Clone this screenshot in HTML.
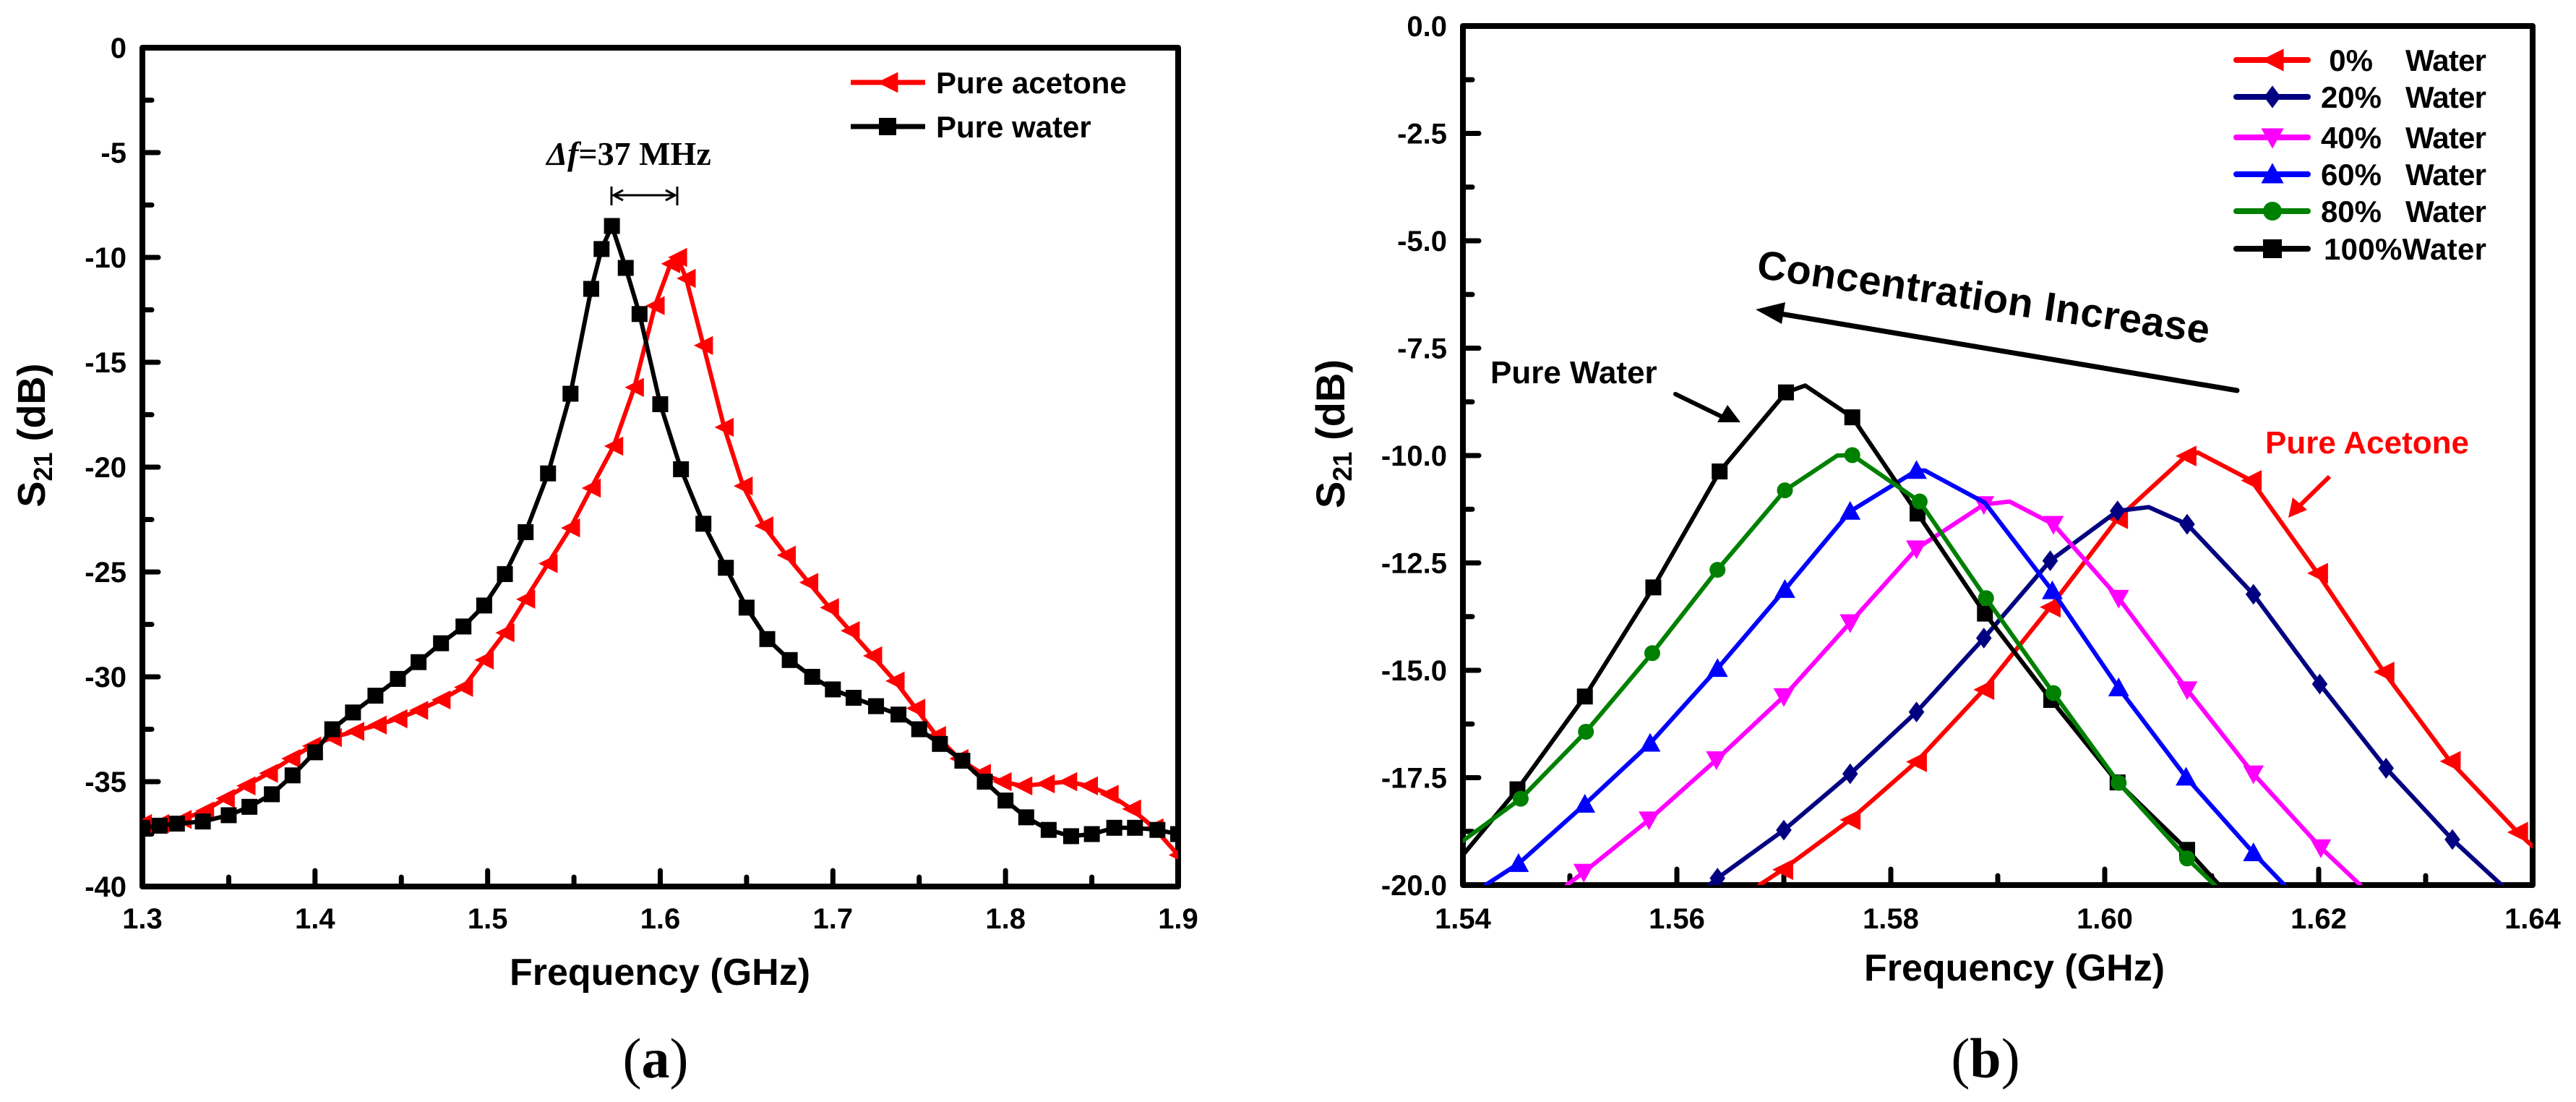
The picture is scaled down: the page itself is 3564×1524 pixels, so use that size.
<!DOCTYPE html>
<html><head><meta charset="utf-8"><style>
html,body{margin:0;padding:0;background:#fff;}
svg{display:block;font-family:"Liberation Sans",Arial,sans-serif;}
</style></head><body>
<svg id="fig" width="3564" height="1524" viewBox="0 0 3564 1524" xmlns="http://www.w3.org/2000/svg">
<defs>
<clipPath id="clipA"><rect x="197" y="66" width="1433" height="1160"/></clipPath>
<clipPath id="clipB"><rect x="2024" y="36" width="1480" height="1188"/></clipPath>
</defs>
<g id="chartA"></g>
<g id="chartB"></g>
</svg>
<script>
// ---------- Chart (a) data ----------
const aWaterF = [1.30,1.31,1.32,1.335,1.35,1.362,1.375,1.387,1.40,1.41,1.422,1.435,1.448,1.46,1.473,1.486,1.498,1.51,1.522,1.535,1.548,1.56,1.566,1.572,1.58,1.588,1.60,1.612,1.625,1.638,1.65,1.662,1.675,1.688,1.70,1.712,1.725,1.738,1.75,1.762,1.775,1.788,1.80,1.812,1.825,1.838,1.85,1.863,1.875,1.888,1.90];
const aWaterDB = [-37.2,-37.1,-37.0,-36.9,-36.6,-36.2,-35.6,-34.7,-33.6,-32.5,-31.7,-30.9,-30.1,-29.3,-28.4,-27.6,-26.6,-25.1,-23.1,-20.3,-16.5,-11.5,-9.6,-8.5,-10.5,-12.7,-17.0,-20.1,-22.7,-24.8,-26.7,-28.2,-29.2,-30.0,-30.6,-31.0,-31.4,-31.8,-32.5,-33.2,-34.0,-35.0,-35.9,-36.7,-37.3,-37.6,-37.5,-37.2,-37.2,-37.3,-37.5];
const aAcetoneF = [1.30,1.31,1.323,1.336,1.348,1.36,1.373,1.386,1.398,1.41,1.423,1.436,1.448,1.46,1.473,1.486,1.498,1.51,1.522,1.535,1.548,1.56,1.573,1.585,1.597,1.606,1.61,1.615,1.625,1.637,1.648,1.66,1.673,1.686,1.698,1.71,1.723,1.736,1.748,1.76,1.773,1.786,1.798,1.81,1.823,1.836,1.848,1.86,1.873,1.886,1.90];
const aAcetoneDB = [-37.0,-37.0,-36.8,-36.4,-35.8,-35.2,-34.6,-33.9,-33.3,-32.9,-32.6,-32.3,-32.0,-31.6,-31.1,-30.5,-29.2,-27.9,-26.3,-24.6,-22.9,-21.0,-19.0,-16.2,-12.3,-10.3,-10.0,-11.0,-14.2,-18.1,-20.9,-22.8,-24.2,-25.5,-26.7,-27.8,-29.0,-30.2,-31.5,-32.8,-33.9,-34.6,-35.0,-35.2,-35.1,-35.0,-35.2,-35.6,-36.3,-37.2,-38.5];
const aXTicks = [1.3,1.4,1.5,1.6,1.7,1.8,1.9];
const aXTickLabels = ["1.3","1.4","1.5","1.6","1.7","1.8","1.9"];
const aYTicks = [0,-5,-10,-15,-20,-25,-30,-35,-40];
const aYTickLabels = ["0","-5","-10","-15","-20","-25","-30","-35","-40"];

// ---------- Chart (b) data ----------
const bCategories = ["0%","20%","40%","60%","80%","100%"];
const b0F  = [1.5677,1.5699,1.5762,1.5824,1.5887,1.5949,1.6012,1.6076,1.6087,1.6137,1.6199,1.6261,1.6323,1.6386,1.6400];
const b0DB = [-20,-19.64,-18.48,-17.13,-15.45,-13.53,-11.47,-10.01,-9.93,-10.58,-12.74,-15.04,-17.12,-18.77,-19.1];
const b0M  = [0,1,1,1,1,1,1,1,0,1,1,1,1,1,0];
const b20F  = [1.5630,1.5638,1.5700,1.5762,1.5824,1.5887,1.5949,1.6012,1.6041,1.6077,1.6139,1.6201,1.6263,1.6325,1.6371];
const b20DB = [-20,-19.84,-18.72,-17.41,-15.97,-14.25,-12.45,-11.29,-11.2,-11.6,-13.23,-15.32,-17.28,-18.94,-20];
const b20M  = [0,1,1,1,1,1,1,1,0,1,1,1,1,1,0];
const b40F  = [1.5497,1.5513,1.5574,1.5637,1.5700,1.5762,1.5824,1.5887,1.5911,1.5952,1.6013,1.6077,1.6139,1.6202,1.6239];
const b40DB = [-20,-19.7,-18.48,-17.08,-15.61,-13.89,-12.17,-11.14,-11.07,-11.6,-13.32,-15.45,-17.41,-19.13,-20];
const b40M  = [0,1,1,1,1,1,1,1,0,1,1,1,1,1,0];
const b60F  = [1.5421,1.5452,1.5514,1.5575,1.5638,1.5701,1.5762,1.5824,1.5832,1.5888,1.5951,1.6013,1.6076,1.6139,1.6168];
const b60DB = [-20,-19.5,-18.12,-16.7,-14.96,-13.12,-11.3,-10.35,-10.35,-11.1,-13.15,-15.41,-17.49,-19.25,-20];
const b60M  = [0,1,1,1,1,1,1,1,0,0,1,1,1,1,0];
const b80F  = [1.5400,1.5454,1.5515,1.5577,1.5638,1.5701,1.5750,1.5764,1.5827,1.5889,1.5952,1.6013,1.6077,1.6103];
const b80DB = [-18.97,-17.99,-16.43,-14.6,-12.66,-10.81,-10.0,-9.99,-11.07,-13.32,-15.53,-17.62,-19.38,-20];
const b80M  = [0,1,1,1,1,1,0,1,1,1,1,1,1,0];
const b100F  = [1.5400,1.5451,1.5514,1.5578,1.5640,1.5702,1.5720,1.5764,1.5825,1.5888,1.5950,1.6012,1.6077,1.6107];
const b100DB = [-19.3,-17.77,-15.61,-13.07,-10.37,-8.53,-8.37,-9.11,-11.35,-13.68,-15.69,-17.61,-19.18,-20];
const b100M  = [0,1,1,1,1,1,0,1,1,1,1,1,1,0];
const bXTicks = [1.54,1.56,1.58,1.60,1.62,1.64];
const bXTickLabels = ["1.54","1.56","1.58","1.60","1.62","1.64"];
const bYTicks = [0,-2.5,-5,-7.5,-10,-12.5,-15,-17.5,-20];
const bYTickLabels = ["0.0","-2.5","-5.0","-7.5","-10.0","-12.5","-15.0","-17.5","-20.0"];

const NS = "http://www.w3.org/2000/svg";
function mk(parent, tag, attrs, text){
  const e = document.createElementNS(NS, tag);
  for (const k in attrs) e.setAttribute(k, attrs[k]);
  if (text !== undefined) e.textContent = text;
  parent.appendChild(e);
  return e;
}

const A = {x0:197,x1:1630,y0:66,y1:1226,fmin:1.3,fmax:1.9,dmax:0,dmin:-40};
const B = {x0:2024,x1:3504,y0:36,y1:1224,fmin:1.54,fmax:1.64,dmax:0,dmin:-20};
function sx(P,f){return P.x0 + (f-P.fmin)/(P.fmax-P.fmin)*(P.x1-P.x0);}
function sy(P,d){return P.y0 + (P.dmax-d)/(P.dmax-P.dmin)*(P.y1-P.y0);}

function marker(g, type, x, y, color, s){
  let e;
  if (type==="square") e = mk(g,"rect",{x:x-s/2,y:y-s/2,width:s,height:s,fill:color});
  else if (type==="circle") e = mk(g,"circle",{cx:x,cy:y,r:s/2,fill:color});
  else {
    let pts;
    const h=s*0.6;
    if (type==="left") pts=[[x-h,y],[x+h,y-h],[x+h,y+h]];
    else if (type==="up") pts=[[x,y-h],[x-h,y+h*0.8],[x+h,y+h*0.8]];
    else if (type==="down") pts=[[x,y+h],[x-h,y-h*0.8],[x+h,y-h*0.8]];
    else if (type==="diamond") pts=[[x,y-h],[x+h*0.75,y],[x,y+h],[x-h*0.75,y]];
    e = mk(g,"polygon",{points:pts.map(p=>p.join(",")).join(" "),fill:color});
  }
  
  
  return e;
}

function axes(g, P, xt, xl, yt, yl, xminor, yminor, ylabRight, xlabBase){
  const frame = mk(g,"rect",{x:P.x0,y:P.y0,width:P.x1-P.x0,height:P.y1-P.y0,fill:"none",stroke:"#000","stroke-width":8,"stroke-linejoin":"round"});
  
  
  xt.forEach((v,i)=>{
    const x=sx(P,v);
    mk(g,"line",{x1:x,y1:P.y1,x2:x,y2:P.y1-22,stroke:"#000","stroke-width":7,"stroke-linecap":"round"});
    const t=mk(g,"text",{x:x,y:xlabBase,"font-size":40,"font-weight":"bold","text-anchor":"middle"},xl[i]);
    
    
  });
  xminor.forEach(v=>{const x=sx(P,v);mk(g,"line",{x1:x,y1:P.y1,x2:x,y2:P.y1-13,stroke:"#000","stroke-width":7,"stroke-linecap":"round"});});
  yt.forEach((v,i)=>{
    const y=sy(P,v);
    mk(g,"line",{x1:P.x0,y1:y,x2:P.x0+22,y2:y,stroke:"#000","stroke-width":7,"stroke-linecap":"round"});
    const t=mk(g,"text",{x:ylabRight,y:y+14,"font-size":40,"font-weight":"bold","text-anchor":"end"},yl[i]);
    
    
  });
  yminor.forEach(v=>{const y=sy(P,v);mk(g,"line",{x1:P.x0,y1:y,x2:P.x0+13,y2:y,stroke:"#000","stroke-width":7,"stroke-linecap":"round"});});
}

function series(g, P, F, D, M, color, mtype, ms, lw, clip, name){
  const sg = mk(g,"g",{"clip-path":"url(#"+clip+")"});
  
  
  const pts = F.map((f,i)=>sx(P,f).toFixed(1)+","+sy(P,D[i]).toFixed(1)).join(" ");
  const pl = mk(sg,"polyline",{points:pts,fill:"none",stroke:color,"stroke-width":lw,"stroke-linejoin":"round","stroke-linecap":"round"});
  
  
  F.forEach((f,i)=>{ if(!M || M[i]) marker(sg,mtype,sx(P,f),sy(P,D[i]),color,ms); });
}

// ---------- Draw (a) ----------
const ga = document.getElementById("chartA");
axes(ga, A, aXTicks, aXTickLabels, aYTicks, aYTickLabels,
  [1.35,1.45,1.55,1.65,1.75,1.85], [-2.5,-7.5,-12.5,-17.5,-22.5,-27.5,-32.5,-37.5], 175, 1284);
series(ga, A, aAcetoneF, aAcetoneDB, null, "#ff0000", "left", 22, 6, "clipA", "series-pure-acetone");
series(ga, A, aWaterF, aWaterDB, null, "#000000", "square", 22, 6, "clipA", "series-pure-water");

let t;
t = mk(ga,"text",{x:913,y:1362,"font-size":52,"font-weight":"bold","text-anchor":"middle"},"Frequency (GHz)");
 
t = mk(ga,"text",{transform:"translate(62,602) rotate(-90)","font-size":54,"font-weight":"bold","text-anchor":"middle"});
 
mk(t,"tspan",{},"S");mk(t,"tspan",{"font-size":36,dy:10},"21");mk(t,"tspan",{dy:-10}," (dB)");
t = mk(ga,"text",{x:907,y:1490,"font-size":78,"text-anchor":"middle","font-family":"Liberation Serif, serif"});
mk(t,"tspan",{},"(");mk(t,"tspan",{"font-weight":"bold"},"a");mk(t,"tspan",{},")");
 
let lg = mk(ga,"g",{});  
mk(lg,"line",{x1:1177,y1:114,x2:1280,y2:114,stroke:"#f00","stroke-width":7});
marker(lg,"left",1228,114,"#f00",24);
mk(lg,"text",{x:1295,y:129,"font-size":42,"font-weight":"bold"},"Pure acetone");
mk(lg,"line",{x1:1177,y1:175,x2:1280,y2:175,stroke:"#000","stroke-width":7});
marker(lg,"square",1228,175,"#000",24);
mk(lg,"text",{x:1295,y:190,"font-size":42,"font-weight":"bold"},"Pure water");
t = mk(ga,"text",{x:870,y:228,"font-size":46,"font-weight":"bold","text-anchor":"middle","font-family":"Liberation Serif, serif"});
mk(t,"tspan",{"font-style":"italic"},"Δf");mk(t,"tspan",{},"=37 MHz");
 
let dg = mk(ga,"g",{stroke:"#000","stroke-width":3,fill:"none"});  
mk(dg,"line",{x1:846,y1:258,x2:846,y2:284});mk(dg,"line",{x1:937,y1:258,x2:937,y2:284});
mk(dg,"line",{x1:849,y1:270,x2:934,y2:270});
mk(dg,"path",{d:"M862,263 L849,270 L862,277"});mk(dg,"path",{d:"M921,263 L934,270 L921,277"});

// ---------- Draw (b) ----------
const gb = document.getElementById("chartB");
axes(gb, B, bXTicks, bXTickLabels, bYTicks, bYTickLabels,
  [1.55,1.57,1.59,1.61,1.63], [-1.25,-3.75,-6.25,-8.75,-11.25,-13.75,-16.25,-18.75], 2002, 1284);
const bColors = ["#ff0000","#000080","#ff00ff","#0000ff","#008000","#000000"];
const bMarks = ["left","diamond","down","up","circle","square"];
series(gb,B,b0F,b0DB,b0M,bColors[0],bMarks[0],24,6,"clipB","series-0-water");
series(gb,B,b20F,b20DB,b20M,bColors[1],bMarks[1],24,6,"clipB","series-20-water");
series(gb,B,b40F,b40DB,b40M,bColors[2],bMarks[2],24,6,"clipB","series-40-water");
series(gb,B,b60F,b60DB,b60M,bColors[3],bMarks[3],24,6,"clipB","series-60-water");
series(gb,B,b100F,b100DB,b100M,bColors[5],bMarks[5],22,6,"clipB","series-100-water");
series(gb,B,b80F,b80DB,b80M,bColors[4],bMarks[4],22,6,"clipB","series-80-water");

t = mk(gb,"text",{x:2787,y:1356,"font-size":52,"font-weight":"bold","text-anchor":"middle"},"Frequency (GHz)");
 
t = mk(gb,"text",{transform:"translate(1860,600) rotate(-90)","font-size":56,"font-weight":"bold","text-anchor":"middle"});
 
mk(t,"tspan",{},"S");mk(t,"tspan",{"font-size":37,dy:10},"21");mk(t,"tspan",{dy:-10}," (dB)");
t = mk(gb,"text",{x:2747,y:1490,"font-size":78,"text-anchor":"middle","font-family":"Liberation Serif, serif"});
mk(t,"tspan",{},"(");mk(t,"tspan",{"font-weight":"bold"},"b");mk(t,"tspan",{},")");
 
const lbY = [83,134,190,241,292,344];
lg = mk(gb,"g",{});  
bCategories.forEach((c,i)=>{
  mk(lg,"line",{x1:3094,y1:lbY[i],x2:3193,y2:lbY[i],stroke:bColors[i],"stroke-width":8,"stroke-linecap":"round"});
  marker(lg,bMarks[i],3144,lbY[i],bColors[i],26);
  if (i<5){
    mk(lg,"text",{x:(i===0?3283:3295),y:lbY[i]+15,"font-size":42,"font-weight":"bold","text-anchor":"end"},c);
    mk(lg,"text",{x:3328,y:lbY[i]+15,"font-size":42,"font-weight":"bold",textLength:112},"Water");
  } else {
    mk(lg,"text",{x:3215,y:lbY[i]+15,"font-size":42,"font-weight":"bold",textLength:225},c+"Water");
  }
});
t = mk(gb,"text",{x:2429,y:384,"font-size":56,"font-weight":"bold",textLength:632,transform:"rotate(8.3 2429 384)"},"Concentration Increase");
 
let ar = mk(gb,"line",{x1:3095,y1:540,x2:2440,y2:430,stroke:"#000","stroke-width":7,"stroke-linecap":"round"});
 
mk(gb,"polygon",{points:"2429,428 2470,418 2465,448",fill:"#000"});
t = mk(gb,"text",{x:2062,y:530,"font-size":44,"font-weight":"bold"},"Pure Water");
 
mk(gb,"line",{x1:2318,y1:545,x2:2390,y2:580,stroke:"#000","stroke-width":6,"stroke-linecap":"round"});
mk(gb,"polygon",{points:"2408,584 2376,584 2390,560",fill:"#000"});
t = mk(gb,"text",{x:3134,y:627,"font-size":44,"font-weight":"bold",fill:"#ff0000"},"Pure Acetone");
 
mk(gb,"line",{x1:3223,y1:659,x2:3178,y2:703,stroke:"#f00","stroke-width":6});
mk(gb,"polygon",{points:"3166,716 3172,688 3192,705",fill:"#f00"});
</script>
</body></html>
